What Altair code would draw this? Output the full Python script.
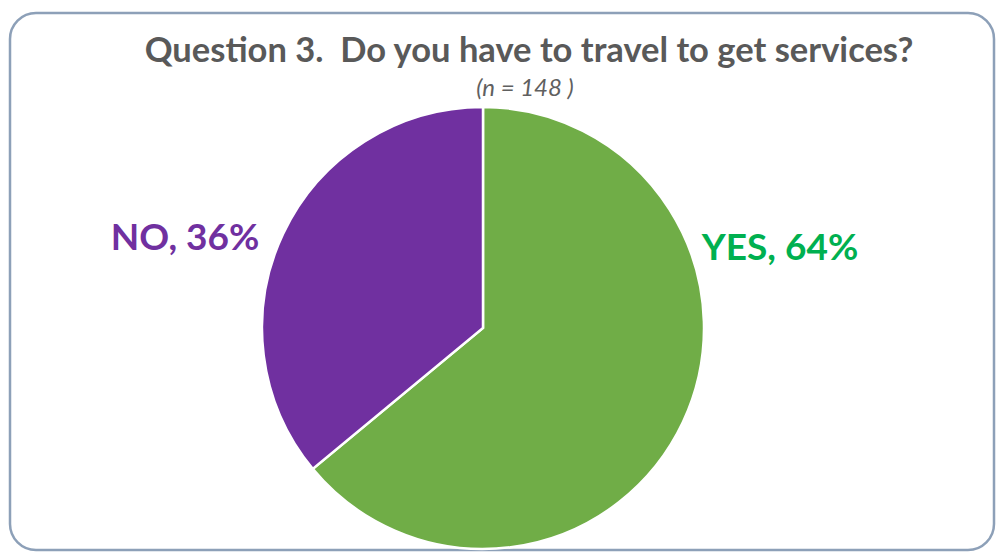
import altair as alt
import pandas as pd

categories = ["YES", "NO"]
values = [64, 36]
order_idx = [0, 1]
slice_colors = ["#70AD47", "#7030A0"]
label_texts = ["YES, 64%", "NO, 36%"]
label_colors = ["#00B050", "#7030A0"]

title_text = "Question 3.\u00a0 Do you have to travel to get services?"
subtitle_text = "(n = 148 )"

df = pd.DataFrame({"cat": categories, "val": values, "ord": order_idx})

FONT = "Lato"
CX, CY, R = 473, 315, 221

pie = alt.Chart(df).mark_arc(stroke="white", strokeWidth=2.5, outerRadius=R).encode(
    theta=alt.Theta("val:Q", stack=True, scale=alt.Scale(range=[0, 6.283185307])),
    order=alt.Order("ord:Q"),
    color=alt.Color("cat:N", scale=alt.Scale(domain=categories, range=slice_colors), legend=None),
    x=alt.value(CX),
    y=alt.value(CY),
)

lab_yes = alt.Chart(df).transform_filter(alt.datum.cat == "YES").mark_text(
    font=FONT, fontWeight="bold", fontSize=37, align="center", baseline="alphabetic", color=label_colors[0]
).encode(text=alt.value(label_texts[0]), x=alt.value(770), y=alt.value(247))

lab_no = alt.Chart(df).transform_filter(alt.datum.cat == "NO").mark_text(
    font=FONT, fontWeight="bold", fontSize=37, align="center", baseline="alphabetic", color=label_colors[1]
).encode(text=alt.value(label_texts[1]), x=alt.value(175), y=alt.value(237))

title = alt.Chart(df).transform_filter(alt.datum.cat == "YES").mark_text(
    font=FONT, fontWeight="bold", fontSize=34.5, align="center", baseline="alphabetic", color="#595959"
).encode(text=alt.value(title_text), x=alt.value(519), y=alt.value(49))

subtitle = alt.Chart(df).transform_filter(alt.datum.cat == "YES").mark_text(
    font=FONT, fontStyle="italic", fontSize=24, align="center", baseline="alphabetic", color="#606060"
).encode(text=alt.value(subtitle_text), x=alt.value(515), y=alt.value(83))

chart = alt.layer(pie, lab_yes, lab_no, title, subtitle).properties(
    width=984, height=537,
    padding={"left": 10, "top": 13, "right": 3, "bottom": 3},
    autosize=alt.AutoSizeParams(type="none"),
    background="white",
).configure_view(
    stroke="#8DA0B8", strokeWidth=2.5, cornerRadius=26
)

chart.save("out.html", embed_options={"renderer": "svg", "actions": False})
